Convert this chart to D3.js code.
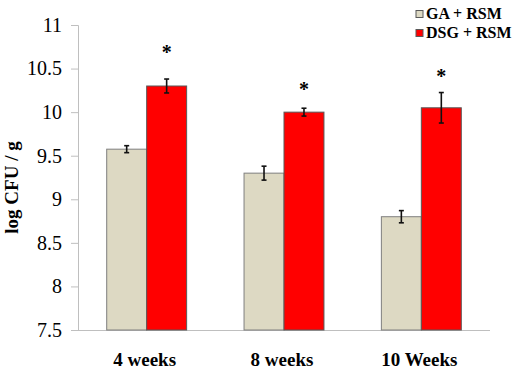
<!DOCTYPE html>
<html>
<head>
<meta charset="utf-8">
<script src="https://cdn.jsdelivr.net/npm/d3@7/dist/d3.min.js"></script>
<style>
body{margin:0;background:#fff;}
svg{display:block;}
svg text{font-family:"Liberation Serif","DejaVu Serif",serif !important;}
</style>
</head>
<body>
<svg id="chart" width="517" height="371"></svg>
<script>
const categories = ["4 weeks", "8 weeks", "10 Weeks"];
const seriesNames = ["GA + RSM", "DSG + RSM"];
const gaValues = [9.575, 9.30, 8.80];
const gaErrors = [0.04, 0.08, 0.07];
const dsgValues = [10.30, 10.00, 10.05];
const dsgErrors = [0.08, 0.045, 0.175];
const starLevels = [10.71, 10.29, 10.44];
const yTicks = [7.5, 8, 8.5, 9, 9.5, 10, 10.5, 11];
const colors = ["#ddd9c3", "#ff0000"];
const strokes = ["#7f7f7f", "#595959"];

(function () {
const FONT = "Liberation Serif";
const svg = d3.select("#chart");
const mLeft = 78, mRight = 490, mTop = 25, mBottom = 330;

const x0 = d3.scaleBand().domain(categories).range([mLeft, mRight]).paddingInner(0.418).paddingOuter(0.209);
const x1 = d3.scaleBand().domain(seriesNames).range([0, x0.bandwidth()]);
const y = d3.scaleLinear().domain([7.5, 11]).range([mBottom, mTop]);

const series = [
  {name: seriesNames[0], values: gaValues, errors: gaErrors},
  {name: seriesNames[1], values: dsgValues, errors: dsgErrors}
];

const yAxis = svg.append("g").attr("transform", `translate(${mLeft},0)`)
  .call(d3.axisLeft(y).tickValues(yTicks).tickSize(7).tickPadding(9).tickFormat(d => String(d)))
  .attr("font-family", FONT).attr("font-size", 20);
yAxis.select(".domain").attr("stroke", "#bfbfbf");
yAxis.selectAll(".tick line").attr("stroke", "#bfbfbf");
yAxis.selectAll(".tick text").attr("fill", "#000").attr("font-weight", "normal");

const xAxis = svg.append("g").attr("transform", `translate(0,${mBottom})`)
  .call(d3.axisBottom(x0).tickSize(0).tickPadding(23))
  .attr("font-family", FONT).attr("font-size", 19).attr("font-weight", "bold");
xAxis.select(".domain").attr("d", `M${mLeft - 7},0.5H${mRight}`).attr("stroke", "#bfbfbf");
xAxis.selectAll(".tick text").attr("fill", "#000").attr("dx", -2);

series.forEach((s, si) => {
  const g = svg.append("g");
  g.selectAll("rect").data(categories).enter().append("rect")
    .attr("x", c => x0(c) + x1(s.name))
    .attr("y", (c, i) => y(s.values[i]))
    .attr("width", x1.bandwidth())
    .attr("height", (c, i) => mBottom - y(s.values[i]))
    .attr("fill", colors[si])
    .attr("stroke", strokes[si])
    .attr("stroke-width", 1);
  const eb = svg.append("g").attr("stroke", "#111").attr("stroke-width", 1.6);
  categories.forEach((c, i) => {
    const cx = x0(c) + x1(s.name) + x1.bandwidth() / 2;
    const y1 = y(s.values[i] + s.errors[i]), y2 = y(s.values[i] - s.errors[i]);
    eb.append("line").attr("x1", cx).attr("x2", cx).attr("y1", y1).attr("y2", y2);
    eb.append("line").attr("x1", cx - 2.5).attr("x2", cx + 2.5).attr("y1", y1).attr("y2", y1);
    eb.append("line").attr("x1", cx - 2.5).attr("x2", cx + 2.5).attr("y1", y2).attr("y2", y2);
  });
});

svg.append("g").selectAll("text").data(categories).enter().append("text")
  .attr("x", c => x0(c) + x1(seriesNames[1]) + x1.bandwidth() / 2)
  .attr("y", (c, i) => y(starLevels[i]) + 9)
  .attr("text-anchor", "middle")
  .style("font-size", "20px").style("font-weight", "bold")
  .text("*");

svg.append("text")
  .attr("transform", `translate(18,${(mTop + mBottom) / 2 + 10}) rotate(-90)`)
  .attr("text-anchor", "middle")
  .style("font-size", "19px").style("font-weight", "bold")
  .text("log CFU / g");

const lg = svg.append("g").attr("transform", "translate(416,0)");
seriesNames.forEach((n, i) => {
  const yy = 14 + i * 19;
  lg.append("rect").attr("x", 0).attr("y", yy - 3.5).attr("width", 7).attr("height", 7)
    .attr("fill", colors[i]).attr("stroke", "#595959").attr("stroke-width", 1);
  lg.append("text").attr("x", 10).attr("y", yy + 5)
    .style("font-size", "16px").style("font-weight", "bold").text(n);
});
})();
</script>
</body>
</html>
